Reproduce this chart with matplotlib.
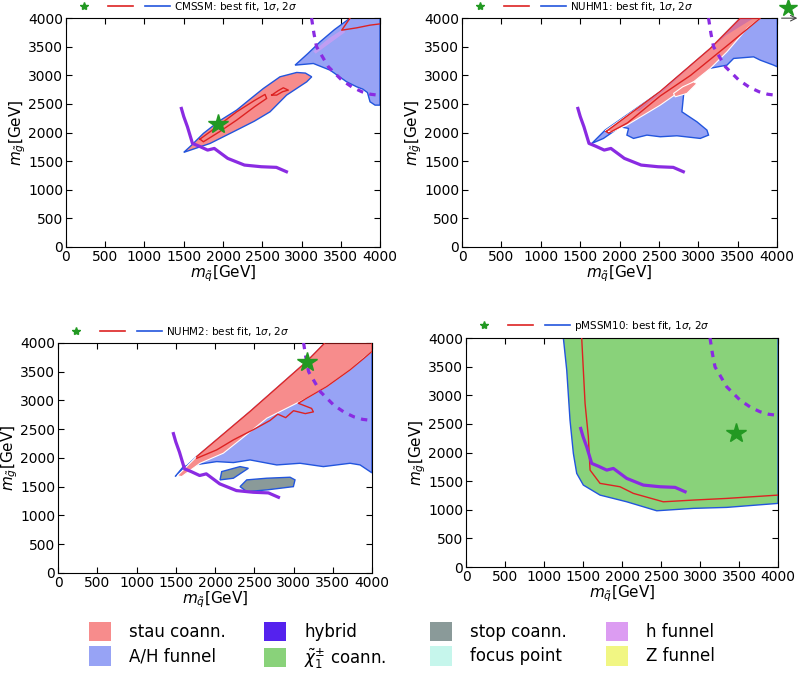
import numpy as np
import matplotlib.pyplot as plt
from matplotlib.lines import Line2D
from matplotlib.patches import Patch

# 区域颜色
c_stau = '#f78c8c'
c_ah = '#97a3f5'
c_hyb = '#5522ee'
c_chi = '#89d27a'
c_stop = '#8a9a99'
c_focus = '#c6f6ec'
c_hfun = '#dc9cf2'
c_zfun = '#f1f683'
c_red = '#dd2222'
c_blue = '#2255dd'
c_purple = '#8a2be2'
c_star = '#229922'

# LHC 排除线 (所有面板相同)
lhc_x = [1470, 1500, 1547, 1611, 1700, 1804, 1889, 2060, 2273, 2487, 2680, 2808]
lhc_y = [2422, 2280, 2101, 1811, 1760, 1694, 1723, 1549, 1432, 1403, 1392, 1316]
proj_x = [3128, 3160, 3192, 3342, 3513, 3650, 3769, 3880, 4000]
proj_y = [4000, 3720, 3499, 3150, 2917, 2790, 2714, 2670, 2650]

# CMSSM
cm_stau_x = [1500, 1600, 1750, 1950, 2174, 2350, 2514, 2726, 2939, 3050, 3130, 3066, 2810, 2599, 2400, 2174, 1835, 1500]
cm_stau_y = [1654, 1780, 1985, 2200, 2393, 2590, 2771, 2975, 3051, 3040, 2975, 2887, 2655, 2363, 2200, 2043, 1810, 1654]
cm_ah_x = [2918, 3080, 3236, 3420, 3618, 4000, 4000, 3937, 3873, 3840, 3780, 3703, 3576, 3363, 3151, 2918]
cm_ah_y = [3179, 3380, 3586, 3800, 4000, 4000, 2480, 2480, 2538, 2700, 2760, 2800, 2887, 3092, 3208, 3179]
cm_hyb_x = [3150, 3350, 3520, 3560, 3380, 3180]
cm_hyb_y = [3420, 3650, 3800, 3760, 3580, 3380]
cm_r1_x = [1707, 1950, 2174, 2400, 2535, 2556, 2400, 2174, 1950, 1750, 1707]
cm_r1_y = [1886, 2130, 2363, 2560, 2667, 2597, 2450, 2218, 2010, 1839, 1886]
cm_r2_x = [2620, 2700, 2768, 2832, 2760, 2683, 2620]
cm_r2_y = [2655, 2730, 2783, 2742, 2715, 2655, 2655]
cm_r3_x = [3618, 3512, 3703, 3873, 4000]
cm_r3_y = [4000, 3790, 3831, 3878, 3900]
cm_star = (1930, 2150)

# NUHM1
n1_ah_x = [1647, 1816, 2515, 3150, 3531, 4000, 4000, 3954, 3785, 3700, 3446, 3362, 3023, 2853, 2811, 2790,
           2981, 3108, 3128, 3023, 2727, 2515, 2346, 2176, 2092, 2113, 2007, 1795, 1647]
n1_ah_y = [1811, 2043, 2713, 3470, 4000, 4000, 3150, 3179, 3266, 3324, 3296, 3179, 3092, 2946, 2655, 2363,
           2188, 2043, 1956, 1898, 1944, 1927, 1956, 1898, 1956, 2073, 2101, 1898, 1811]
n1_stau_x = [1816, 2515, 3150, 3531, 3785, 3616, 3362, 3150, 2938, 2515, 2092, 1900, 1816]
n1_stau_y = [2030, 2713, 3470, 4000, 4000, 3820, 3411, 3121, 2887, 2480, 2130, 2010, 2030]
n1_blob_x = [2684, 2800, 2938, 2981, 2853, 2705, 2684]
n1_blob_y = [2684, 2800, 2887, 2858, 2684, 2625, 2684]
n1_hyb_x = [2200, 2515, 3150, 3531, 3700, 3350, 3000, 2600, 2250]
n1_hyb_y = [2370, 2713, 3470, 4000, 4000, 3700, 3280, 2780, 2380]
n1_r1_x = [1830, 2515, 3150, 3531, 3785, 3400, 2900, 2515, 2100, 1860, 1830]
n1_r1_y = [2020, 2720, 3470, 4000, 4000, 3560, 3000, 2640, 2170, 1990, 2020]
n1_star = (4140, 4170)

# NUHM2
n2_ah_x = [1491, 1767, 2446, 3168, 3401, 4000, 4000, 3975, 3848, 3720, 3380, 3083, 2786, 2446, 2234, 2021, 1597, 1491]
n2_ah_y = [1675, 2023, 2806, 3675, 4000, 4000, 1740, 1762, 1878, 1907, 1849, 1907, 1878, 1965, 1919, 1936, 1849, 1675]
n2_stau_x = [1520, 1767, 2446, 3168, 3401, 4000, 4000, 3975, 3890, 3720, 3423, 3168, 2914, 2659, 2319, 2106, 1809, 1576, 1520]
n2_stau_y = [1690, 2023, 2806, 3675, 4000, 4000, 3850, 3820, 3734, 3530, 3240, 3038, 2864, 2689, 2313, 2082, 1907, 1675, 1690]
n2_stop1_x = [2085, 2319, 2425, 2234, 2064, 2085]
n2_stop1_y = [1762, 1849, 1820, 1647, 1618, 1762]
n2_stop2_x = [2319, 2404, 2659, 2956, 3019, 2998, 2659, 2404, 2319]
n2_stop2_y = [1501, 1618, 1647, 1664, 1618, 1501, 1444, 1414, 1501]
n2_r1_x = [1767, 2446, 3168, 3401, 4000, 4000, 3720, 3423, 3168, 3060, 3230, 3253, 3150, 3000, 2900, 2800, 2700, 2500, 2234, 2021, 1767]
n2_r1_y = [2023, 2806, 3675, 4000, 4000, 3850, 3530, 3240, 3038, 2950, 2860, 2800, 2770, 2820, 2700, 2760, 2650, 2500, 2313, 2139, 1994]
n2_star = (3170, 3670)

# pMSSM10
p10_chi_x = [1248, 1291, 1333, 1376, 1419, 1504, 1718, 2060, 2445, 2914, 3342, 4000, 4000]
p10_chi_y = [4000, 3441, 2567, 1985, 1636, 1432, 1257, 1140, 983, 1025, 1042, 1112, 4000]
p10_r1_x = [1483, 1504, 1526, 1568, 1590, 1718, 1974, 2145, 2529, 2914, 3342, 4000]
p10_r1_y = [4000, 3441, 2859, 2276, 1694, 1462, 1403, 1287, 1140, 1170, 1199, 1257]
p10_star = (3461, 2335)

ticks = [0, 500, 1000, 1500, 2000, 2500, 3000, 3500, 4000]

fig = plt.figure(figsize=(7.98, 6.73), dpi=100)
ax1 = fig.add_axes([0.0827, 0.633, 0.3935, 0.340])
ax2 = fig.add_axes([0.579, 0.633, 0.395, 0.340])
ax3 = fig.add_axes([0.0727, 0.1486, 0.3935, 0.342])
ax4 = fig.add_axes([0.584, 0.1575, 0.391, 0.340])

def common(ax, name):
    ax.set_xlim(0, 4000)
    ax.set_ylim(0, 4000)
    ax.set_xticks(ticks)
    ax.set_yticks(ticks)
    ax.tick_params(direction='in', top=True, right=True, labelsize=10, length=4, pad=2)
    ax.set_xlabel(r'$m_{\tilde{q}}$[GeV]', fontsize=11, labelpad=0)
    ax.set_ylabel(r'$m_{\tilde{g}}$[GeV]', fontsize=11, labelpad=0)
    ax.plot(lhc_x, lhc_y, color=c_purple, lw=2.3, zorder=5)
    ax.plot(proj_x, proj_y, color=c_purple, lw=2.3, ls=(0, (2, 2)), zorder=5)
    hd = [Line2D([], [], marker='*', color=c_star, ls='none', ms=6),
          Line2D([], [], color=c_red, lw=1.2),
          Line2D([], [], color=c_blue, lw=1.2)]
    ax.legend(hd, ['', '', name + r': best fit, $1\sigma$, $2\sigma$'], ncol=3,
              loc='lower left', bbox_to_anchor=(0.0, 1.0), frameon=False,
              fontsize=7.5, handlelength=2.4, columnspacing=0.8, handletextpad=0.35,
              borderaxespad=0.1)

def region(ax, xs, ys, color):
    ax.fill(xs, ys, facecolor=color, edgecolor=c_blue, lw=1.0, zorder=2)

# CMSSM
region(ax1, cm_stau_x, cm_stau_y, c_stau)
region(ax1, cm_ah_x, cm_ah_y, c_ah)
ax1.fill(cm_hyb_x, cm_hyb_y, facecolor=c_hfun, alpha=0.6, lw=0, zorder=2.6)
for xs, ys in [(cm_r1_x, cm_r1_y), (cm_r2_x, cm_r2_y), (cm_r3_x, cm_r3_y)]:
    ax1.plot(xs, ys, color=c_red, lw=1.0, zorder=3)
ax1.plot(*cm_star, marker='*', color=c_star, ms=15, zorder=6)
common(ax1, 'CMSSM')

# NUHM1
region(ax2, n1_ah_x, n1_ah_y, c_ah)
ax2.fill(n1_stau_x, n1_stau_y, facecolor=c_stau, edgecolor='white', lw=0.8, zorder=2.5)
ax2.fill(n1_blob_x, n1_blob_y, facecolor=c_stau, edgecolor='white', lw=0.8, zorder=2.5)
ax2.fill(n1_hyb_x, n1_hyb_y, facecolor=c_hyb, alpha=0.22, lw=0, zorder=2.6)
ax2.plot(n1_r1_x, n1_r1_y, color=c_red, lw=1.0, zorder=3)
ax2.plot(*n1_star, marker='*', color=c_star, ms=13, clip_on=False, zorder=6)
ax2.annotate('', xy=(4290, 4000), xytext=(4020, 4000), annotation_clip=False,
             arrowprops=dict(arrowstyle='->', color='#444444', lw=0.8))
common(ax2, 'NUHM1')

# NUHM2
region(ax3, n2_ah_x, n2_ah_y, c_ah)
ax3.fill(n2_stau_x, n2_stau_y, facecolor=c_stau, edgecolor='white', lw=0.8, zorder=2.5)
region(ax3, n2_stop1_x, n2_stop1_y, c_stop)
region(ax3, n2_stop2_x, n2_stop2_y, c_stop)
ax3.plot(n2_r1_x, n2_r1_y, color=c_red, lw=1.0, zorder=3)
ax3.plot(*n2_star, marker='*', color=c_star, ms=15, zorder=6)
common(ax3, 'NUHM2')

# pMSSM10
region(ax4, p10_chi_x, p10_chi_y, c_chi)
ax4.plot(p10_r1_x, p10_r1_y, color=c_red, lw=1.0, zorder=3)
ax4.plot(*p10_star, marker='*', color=c_star, ms=15, zorder=6)
common(ax4, 'pMSSM10')

# 底部图例: 四列, 每列两项
labels = ['stau coann.', 'A/H funnel', 'hybrid', r'$\tilde{\chi}^{\pm}_{1}$ coann.',
          'stop coann.', 'focus point', 'h funnel', 'Z funnel']
colors = [c_stau, c_ah, c_hyb, c_chi, c_stop, c_focus, c_hfun, c_zfun]
col_left = [89, 264, 430, 606]
for k, xl in enumerate(col_left):
    hs = [Patch(facecolor=c, edgecolor='none') for c in colors[2 * k:2 * k + 2]]
    fig.legend(hs, labels[2 * k:2 * k + 2], loc='upper left',
               bbox_to_anchor=(xl / 798, 1 - 622 / 673), frameon=False, fontsize=12,
               handlelength=1.3, handleheight=1.4, handletextpad=1.1,
               labelspacing=0.3, borderpad=0, borderaxespad=0)

fig.savefig('out.png', dpi=100)
